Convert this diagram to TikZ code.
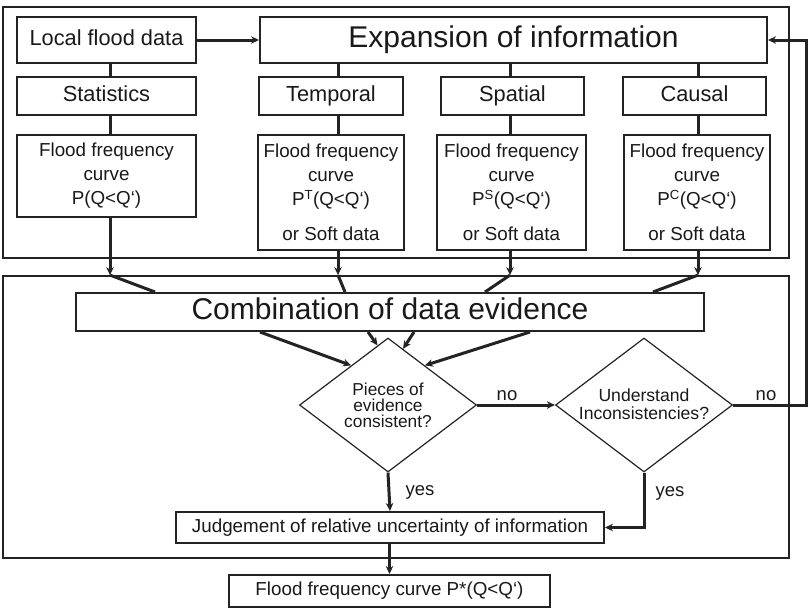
\documentclass[tikz,border=0pt]{standalone}
\usepackage{fontspec}
\setmainfont{Liberation Sans}
\usetikzlibrary{arrows.meta,shapes.geometric}
\definecolor{ink}{RGB}{35,35,35}
\definecolor{txt}{RGB}{25,25,25}
\begin{document}
\begin{tikzpicture}[x=1pt,y=-1pt,
  frame/.style={draw=ink,line width=1.8pt,inner sep=0pt},
  box/.style={draw=ink,line width=2pt,inner sep=0pt,text=txt},
  dia/.style={draw=ink,line width=1.2pt,shape=diamond,inner sep=0pt},
  conn/.style={draw=ink,line width=3pt},
  arr/.style={conn,-{Stealth[length=8pt,width=7.5pt]}},
  big/.style={font=\fontsize{30}{34}\selectfont,text height=21.5pt,text depth=6.3pt},
  mid/.style={font=\fontsize{21.8}{26}\selectfont,text height=15.7pt,text depth=4.6pt},
  one/.style={font=\fontsize{18.8}{24}\selectfont,text height=13.5pt,text depth=4pt},
  norm/.style={font=\fontsize{18.8}{24}\selectfont,align=center},
  lbl/.style={text=txt,inner sep=0pt,font=\fontsize{18.5}{22}\selectfont}]
\useasboundingbox (0,0) rectangle (808,608);
% frames
\node[frame,minimum width=786,minimum height=251] (top) at (396,132.5) {};
\node[frame,minimum width=786,minimum height=282] (bot) at (396,417) {};
% top row
\node[box,mid,minimum width=179,minimum height=46] (local) at (106.5,40) {Local flood data};
\node[box,big,minimum width=507,minimum height=46] (exp) at (513.5,40) {Expansion of information};
% second row
\node[box,mid,minimum width=179,minimum height=38] (stat) at (106.5,96) {Statistics};
\node[box,mid,minimum width=144,minimum height=38] (temp) at (331,96) {Temporal};
\node[box,mid,minimum width=143,minimum height=38] (spat) at (512.5,96) {Spatial};
\node[box,mid,minimum width=143,minimum height=38] (caus) at (694.5,96) {Causal};
% curve boxes
\node[box,norm,minimum width=179,minimum height=82] (c0) at (106.5,176) {Flood frequency\\curve\\P(Q<Q‘)};
\node[box,norm,minimum width=146,minimum height=115] (c1) at (331,192.5) {Flood frequency\\curve\\P\textsuperscript{T}(Q<Q‘)\\[11pt]or Soft data};
\node[box,norm,minimum width=149,minimum height=115] (c2) at (511.5,192.5) {Flood frequency\\curve\\P\textsuperscript{S}(Q<Q‘)\\[11pt]or Soft data};
\node[box,norm,minimum width=146,minimum height=115] (c3) at (697,192.5) {Flood frequency\\curve\\P\textsuperscript{C}(Q<Q‘)\\[11pt]or Soft data};
% combination
\node[box,big,minimum width=628,minimum height=38] (comb) at (390,312) {Combination of data evidence};
% diamonds
\node[dia,minimum width=177,minimum height=134] (d1) at (388,405) {};
\node[text=txt,align=center,font=\fontsize{17.3}{16}\selectfont] (d1t) at (388,405) {Pieces of\\evidence\\consistent?};
\node[dia,minimum width=177,minimum height=134] (d2) at (644,405) {};
\node[text=txt,align=center,font=\fontsize{17.6}{18}\selectfont] (d2t) at (644,404) {Understand\\Inconsistencies?};
% judgement and result
\node[box,one,minimum width=428,minimum height=31] (judge) at (390,527.5) {Judgement of relative uncertainty of information};
\node[box,one,minimum width=321,minimum height=32] (final) at (389.5,591) {Flood frequency curve P*(Q<Q‘)};
% x positions of vertical connectors
\coordinate (x0) at (110,0);
\coordinate (x1) at (338,0);
\coordinate (x2) at (510,0);
\coordinate (x3) at (698,0);
\coordinate (y0) at (155,0);
\coordinate (y1) at (345,0);
\coordinate (y2) at (485,0);
\coordinate (y3) at (653,0);
\coordinate (fb) at (806,0);
\coordinate (s1) at (260,0);
\coordinate (s2) at (368,0);
\coordinate (s3) at (414,0);
\coordinate (s4) at (530,0);
% top connectors
\draw[arr] (local) -- (exp);
\draw[conn] (local.south -| x0) -- (stat.north -| x0);
\draw[conn] (stat.south -| x0) -- (c0.north -| x0);
\draw[conn] (exp.south -| x1) -- (temp.north -| x1);
\draw[conn] (temp.south -| x1) -- (c1.north -| x1);
\draw[conn] (exp.south -| x2) -- (spat.north -| x2);
\draw[conn] (spat.south -| x2) -- (c2.north -| x2);
\draw[conn] (exp.south -| x3) -- (caus.north -| x3);
\draw[conn] (caus.south -| x3) -- (c3.north -| x3);
% down to combination
\draw[arr] (c0.south -| x0) -- (bot.north -| x0);
\draw[arr] (c1.south -| x1) -- (bot.north -| x1);
\draw[arr] (c2.south -| x2) -- (bot.north -| x2);
\draw[arr] (c3.south -| x3) -- (bot.north -| x3);
\draw[conn] (bot.north -| x0) -- (comb.north -| y0);
\draw[conn] (bot.north -| x1) -- (comb.north -| y1);
\draw[conn] (bot.north -| x2) -- (comb.north -| y2);
\draw[conn] (bot.north -| x3) -- (comb.north -| y3);
% combination to diamond
\draw[arr] (comb.south -| s1) -- (d1.133.5);
\draw[arr] (comb.south -| s2) -- (d1.100.6);
\draw[arr] (comb.south -| s3) -- (d1.75.7);
\draw[arr] (comb.south -| s4) -- (d1.47.2);
% decisions
\draw[arr] (d1.east) -- (d2.west);
\node[lbl] (no1) at (507,396) {no};
\draw[arr] (d2.east) -- (d2.east -| fb) -- (exp.east -| fb) -- (exp.east);
\node[lbl] (no2) at (766,396) {no};
\draw[arr] (d1.south) -- (judge.north);
\node[lbl] (yes1) at (420,492) {yes};
\draw[arr] (d2.south) |- (judge.east);
\node[lbl] (yes2) at (670,493) {yes};
\draw[arr] (judge.south -| final.north) -- (final.north);
\end{tikzpicture}
\end{document}
